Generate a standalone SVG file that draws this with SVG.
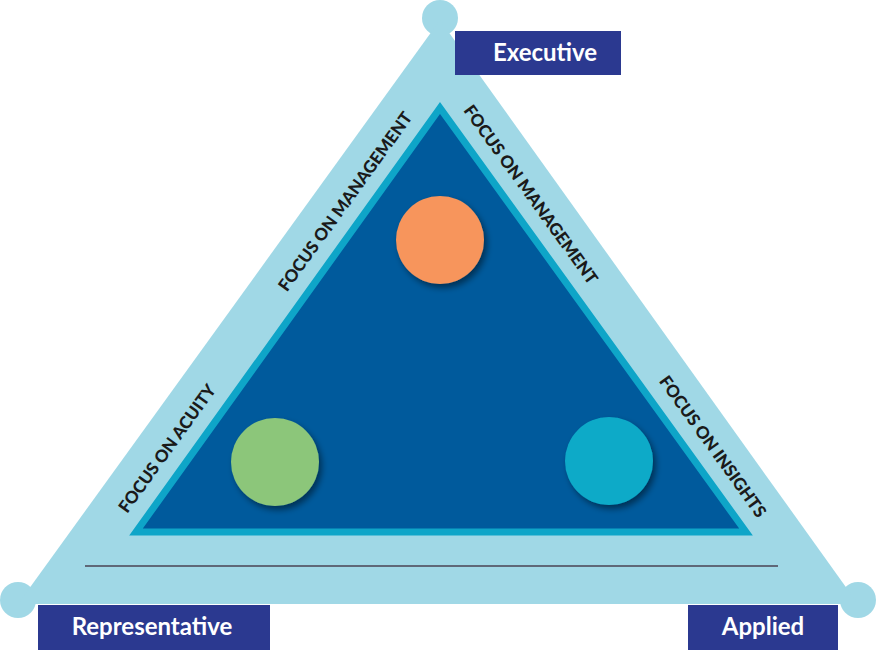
<svg xmlns="http://www.w3.org/2000/svg" width="876" height="650" viewBox="0 0 876 650">
<style>
.lbl{font-family:"Lato","Liberation Sans",sans-serif;font-weight:bold;font-size:24px;fill:#fff;text-anchor:middle}
.side{font-family:"Lato","Liberation Sans",sans-serif;font-weight:900;font-size:17px;fill:#1a1a1a;text-anchor:middle}
.box{fill:#2b3990}
</style>
<defs>
<filter id="sh" x="-30%" y="-30%" width="170%" height="170%"><feDropShadow dx="3" dy="4" stdDeviation="3" flood-color="#000" flood-opacity="0.45"/></filter>
</defs>
<g id="frame">
<circle cx="440" cy="18" r="18" fill="#a0d8e6"/>
<circle cx="18" cy="600" r="18" fill="#a0d8e6"/>
<circle cx="858" cy="600" r="18" fill="#a0d8e6"/>
<polygon points="440,20 18,604 858,604" fill="#a0d8e6"/>
<polygon points="440,108 136,532 746,532" fill="#005a9c" stroke="#0ea5c8" stroke-width="7" stroke-linejoin="miter"/>
<line x1="85" y1="566" x2="778" y2="566" stroke="#5f6878" stroke-width="2"/>
</g>
<g id="sides">
<text class="side" transform="translate(350,205) rotate(-54.2)">FOCUS ON MANAGEMENT</text>
<text class="side" transform="translate(172,452) rotate(-54.2)">FOCUS ON ACUITY</text>
<text class="side" transform="translate(526,198) rotate(54.2)">FOCUS ON MANAGEMENT</text>
<text class="side" transform="translate(708,450) rotate(54.2)">FOCUS ON INSIGHTS</text>
</g>
<g id="node-orange"><circle cx="440" cy="240" r="44" fill="#f7955b" filter="url(#sh)"/></g>
<g id="node-green"><circle cx="275" cy="462" r="44" fill="#8cc67a" filter="url(#sh)"/></g>
<g id="node-teal"><circle cx="609" cy="461" r="44" fill="#0eaac8" filter="url(#sh)"/></g>
<g id="executive"><rect class="box" x="455" y="31" width="166" height="44"/><text class="lbl" x="545" y="61">Executive</text></g>
<g id="representative"><rect class="box" x="38" y="605" width="232" height="45"/><text class="lbl" x="152" y="635">Representative</text></g>
<g id="applied"><rect class="box" x="688" y="605" width="150" height="45"/><text class="lbl" x="763" y="635">Applied</text></g>
<g id="connectors"></g>
</svg>
